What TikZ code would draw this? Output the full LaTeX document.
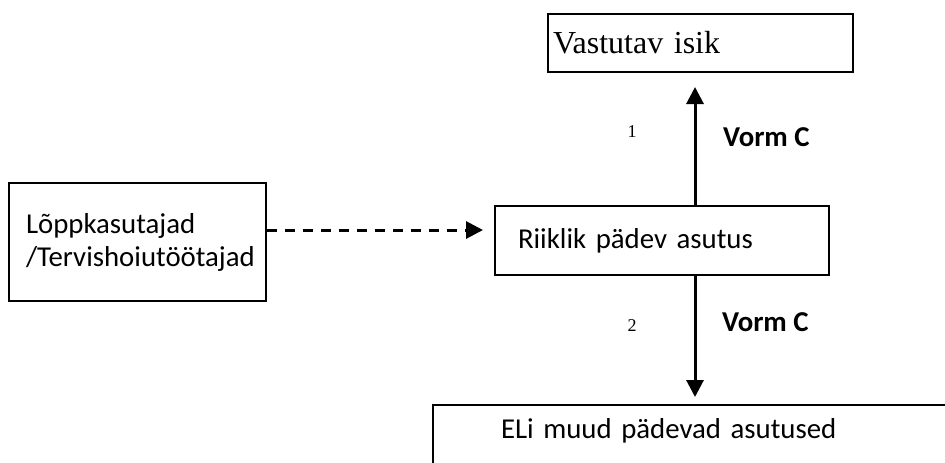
\documentclass[tikz,border=0pt]{standalone}
\usepackage{fontspec}
\setmainfont{Liberation Serif}
\newfontfamily\calib{Carlito}
\usetikzlibrary{arrows.meta,positioning}

\tikzset{
  box/.style={draw, line width=1pt, rectangle, anchor=north west, align=left},
  sans/.style={font=\calib\fontsize{14.4}{16.5}\selectfont},
  formarrow/.style={line width=1.5pt, -{Triangle[length=8.5pt,width=8.5pt]}},
  feedarrow/.style={line width=1.5pt, dash pattern=on 5pt off 4pt, -{Triangle[length=8.5pt,width=8.5pt]}},
  num/.style={font=\fontsize{9}{10}\selectfont},
  vorm/.style={font=\calib\bfseries\fontsize{14.4}{16}\selectfont, anchor=west},
}

\begin{document}
\begin{tikzpicture}[x=0.5pt, y=-0.5pt]
    \useasboundingbox (0,0) rectangle (945,462);
    \clip (0,0) rectangle (945,462);

    % boxes
    \node[box, font=\fontsize{16}{19}\selectfont, inner xsep=2.5pt, text width=147.5pt, minimum height=29pt] at (547,13)(vastutav){Vastutav isik};
    \node[box, sans, inner xsep=8.5pt, text width=111.5pt, minimum height=59pt] at (8,182)(kasutajad){Lõppkasutajad\\/Tervishoiutöötajad};
    \node[box, sans, inner xsep=11.5pt, text width=144pt, minimum height=34.5pt] at (494,205)(riiklik){Riiklik pädev asutus};
    \node[box, sans, inner xsep=34pt, inner ysep=6.5pt, text width=300pt, text depth=40pt] at (432,404)(eli){ELi muud pädevad asutused};

    \coordinate (axis) at (695,0);
    \coordinate (dashy) at (0,230);

    % labels
    \node[num] at (632,132)(num1){1};
    \node[vorm] at (716,137)(vorm1){Vorm C};
    \node[num] at (632,326)(num2){2};
    \node[vorm] at (715,322)(vorm2){Vorm C};

    % arrows
    \draw[formarrow, shorten >=7pt] (riiklik.north -| axis) -- (vastutav.south -| axis);
    \draw[formarrow, shorten >=3.5pt] (riiklik.south -| axis) -- (eli.north -| axis);
    \draw[feedarrow, shorten >=5.5pt] (kasutajad.east |- dashy) -- (riiklik.west |- dashy);
\end{tikzpicture}
\end{document}
